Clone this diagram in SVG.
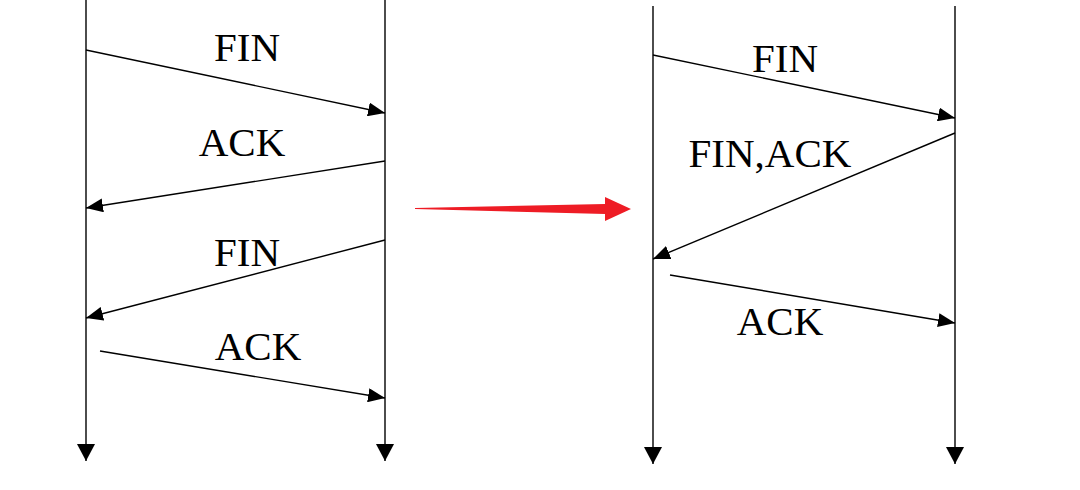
<svg xmlns="http://www.w3.org/2000/svg" width="1080" height="490" viewBox="0 0 1080 490">
<defs>
<style>
.lf{stroke:#000;stroke-width:1.4;fill:none}
.msg{stroke:#000;stroke-width:1.4;fill:none}
.lbl{font-family:"Liberation Serif","Times New Roman",serif;font-size:41px;fill:#000;text-anchor:middle}
</style>
<marker id="ah" markerUnits="userSpaceOnUse" viewBox="0 0 17 14" refX="17" refY="7" markerWidth="17" markerHeight="14" orient="auto">
<path d="M0,0 L17,7 L0,14 Z" fill="#000"/>
</marker>
<marker id="lh" markerUnits="userSpaceOnUse" viewBox="0 0 17 18" refX="17" refY="9" markerWidth="17" markerHeight="18" orient="auto">
<path d="M0,0 L17,9 L0,18 Z" fill="#000"/>
</marker>
</defs>
<rect width="1080" height="490" fill="#fff"/>
<g id="left-client"><line class="lf" x1="86" y1="0" x2="86" y2="461" marker-end="url(#lh)"/></g>
<g id="left-server"><line class="lf" x1="385" y1="0" x2="385" y2="461" marker-end="url(#lh)"/></g>
<g id="right-client"><line class="lf" x1="653" y1="6" x2="653" y2="464" marker-end="url(#lh)"/></g>
<g id="right-server"><line class="lf" x1="955" y1="6" x2="955" y2="464" marker-end="url(#lh)"/></g>
<g id="connectors">
<line class="msg" x1="86" y1="50" x2="385" y2="113" marker-end="url(#ah)"/>
<line class="msg" x1="385" y1="161" x2="86" y2="208" marker-end="url(#ah)"/>
<line class="msg" x1="385" y1="240" x2="86" y2="318" marker-end="url(#ah)"/>
<line class="msg" x1="100" y1="351" x2="385" y2="398" marker-end="url(#ah)"/>
<line class="msg" x1="653" y1="55" x2="955" y2="118" marker-end="url(#ah)"/>
<line class="msg" x1="955" y1="133" x2="653" y2="259" marker-end="url(#ah)"/>
<line class="msg" x1="670" y1="275" x2="955" y2="323" marker-end="url(#ah)"/>
<path d="M415,208 L605,204 L605,197 L631,209 L605,221 L605,214 L415,209 Z" fill="#ee1c25"/>
</g>
<g id="labels">
<text class="lbl" x="247" y="61">FIN</text>
<text class="lbl" x="242" y="156">ACK</text>
<text class="lbl" x="247" y="266">FIN</text>
<text class="lbl" x="258" y="360">ACK</text>
<text class="lbl" x="785" y="72">FIN</text>
<text class="lbl" x="770" y="167">FIN,ACK</text>
<text class="lbl" x="780" y="335">ACK</text>
</g>
</svg>
